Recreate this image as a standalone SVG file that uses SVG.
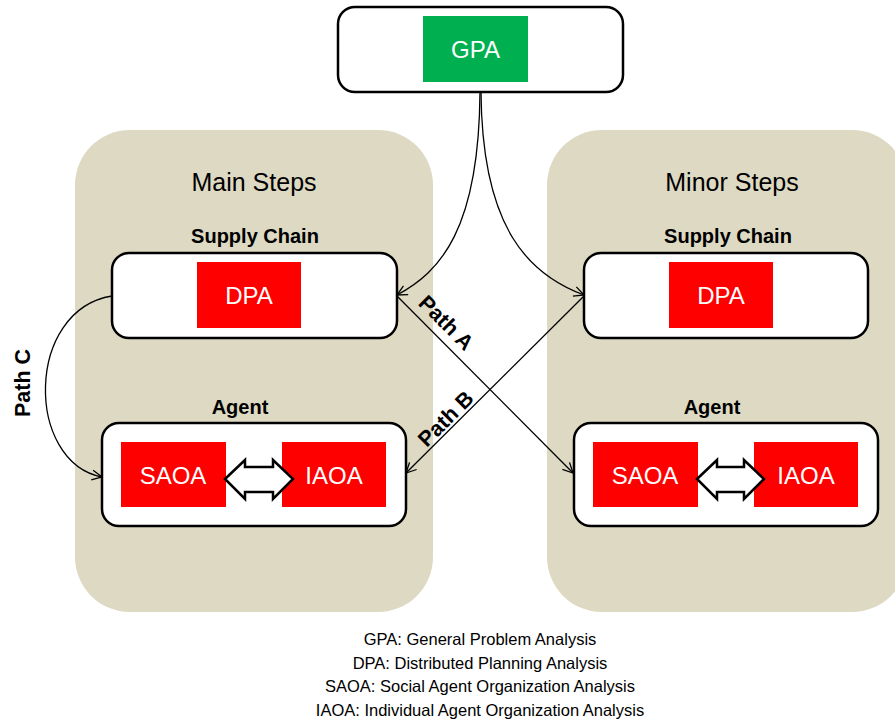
<svg xmlns="http://www.w3.org/2000/svg" width="895" height="719" viewBox="0 0 895 719">
<style>
.panel{fill:#DDD9C3}
.box{fill:#fff;stroke:#000;stroke-width:2.5}
.red{fill:#FF0000}
.green{fill:#00B050}
.lbl{font-family:"Liberation Sans",Arial,sans-serif;fill:#fff;font-size:24px;text-anchor:middle}
.title{font-family:"Liberation Sans",Arial,sans-serif;fill:#000;font-size:25px;text-anchor:middle}
.sub{font-family:"Liberation Sans",Arial,sans-serif;font-weight:bold;fill:#000;font-size:20px;text-anchor:middle}
.path{font-family:"Liberation Sans",Arial,sans-serif;font-weight:bold;fill:#000;font-size:21.5px;text-anchor:middle;dominant-baseline:central}
.legend{font-family:"Liberation Sans",Arial,sans-serif;fill:#000;font-size:16.5px;text-anchor:middle}
.conn{fill:none;stroke:#000;stroke-width:1.3}
.dbl{fill:#fff;stroke:#000;stroke-width:2.5;stroke-linejoin:miter}
</style>
<defs>
<marker id="arr" viewBox="0 0 12 12" refX="11" refY="6" markerWidth="12" markerHeight="12" markerUnits="userSpaceOnUse" orient="auto">
<path d="M1,1 L11,6 L1,11" fill="none" stroke="#000" stroke-width="1.3"/>
</marker>
</defs>

<g id="panel-main">
<rect class="panel" x="75" y="130" width="358" height="482" rx="55"/>
<text class="title" x="254" y="191">Main Steps</text>
</g>
<g id="panel-minor">
<rect class="panel" x="547" y="130" width="360" height="482" rx="55"/>
<text class="title" x="732" y="191">Minor Steps</text>
</g>

<g id="gpa">
<rect class="box" x="338" y="7" width="285" height="85" rx="17"/>
<rect class="green" x="423" y="16" width="105" height="66"/>
<text class="lbl" x="475.5" y="57.5">GPA</text>
</g>

<g id="main-supply">
<text class="sub" x="255" y="243">Supply Chain</text>
<rect class="box" x="112" y="253" width="285" height="85" rx="17"/>
<rect class="red" x="197" y="262" width="104" height="66"/>
<text class="lbl" x="249" y="303.5">DPA</text>
</g>

<g id="main-agent">
<text class="sub" x="240" y="414">Agent</text>
<rect class="box" x="102" y="423" width="304" height="103" rx="17"/>
<rect class="red" x="121" y="442" width="105" height="65"/>
<text class="lbl" x="173" y="484">SAOA</text>
<rect class="red" x="282" y="442" width="104" height="65"/>
<text class="lbl" x="334" y="484">IAOA</text>
<path class="dbl" d="M225,479 L245,460 L245,467 L273,467 L273,460 L293,479 L273,499 L273,492 L245,492 L245,499 Z"/>
</g>

<g id="minor-supply">
<text class="sub" x="728" y="243">Supply Chain</text>
<rect class="box" x="584" y="253" width="284" height="85" rx="17"/>
<rect class="red" x="669" y="262" width="104" height="66"/>
<text class="lbl" x="721" y="303.5">DPA</text>
</g>

<g id="minor-agent">
<text class="sub" x="712" y="414">Agent</text>
<rect class="box" x="574" y="423" width="304" height="103" rx="17"/>
<rect class="red" x="593" y="442" width="105" height="65"/>
<text class="lbl" x="645" y="484">SAOA</text>
<rect class="red" x="754" y="442" width="104" height="65"/>
<text class="lbl" x="806" y="484">IAOA</text>
<path class="dbl" d="M697,479 L717,460 L717,467 L744,467 L744,460 L764,479 L744,499 L744,492 L717,492 L717,499 Z"/>
</g>

<g id="connectors">
<path class="conn" d="M480,92 C479,230 440,272 397,295" marker-end="url(#arr)"/>
<path class="conn" d="M481,92 C482,230 530,275 584,295" marker-end="url(#arr)"/>
<path class="conn" d="M397,296 L573,473" marker-end="url(#arr)"/>
<path class="conn" d="M584,296 L406,473" marker-end="url(#arr)"/>
<path class="conn" d="M112,296 C25,310 25,462 102,477" marker-end="url(#arr)"/>
<text class="path" transform="translate(446,323) rotate(45)">Path A</text>
<text class="path" transform="translate(446,419) rotate(-45)">Path B</text>
<text class="path" transform="translate(23,383) rotate(-90)">Path C</text>
</g>

<g id="legend">
<text class="legend" x="480" y="645">GPA: General Problem Analysis</text>
<text class="legend" x="480" y="668.5">DPA: Distributed Planning Analysis</text>
<text class="legend" x="480" y="692">SAOA: Social Agent Organization Analysis</text>
<text class="legend" x="480" y="715.5">IAOA: Individual Agent Organization Analysis</text>
</g>
</svg>
